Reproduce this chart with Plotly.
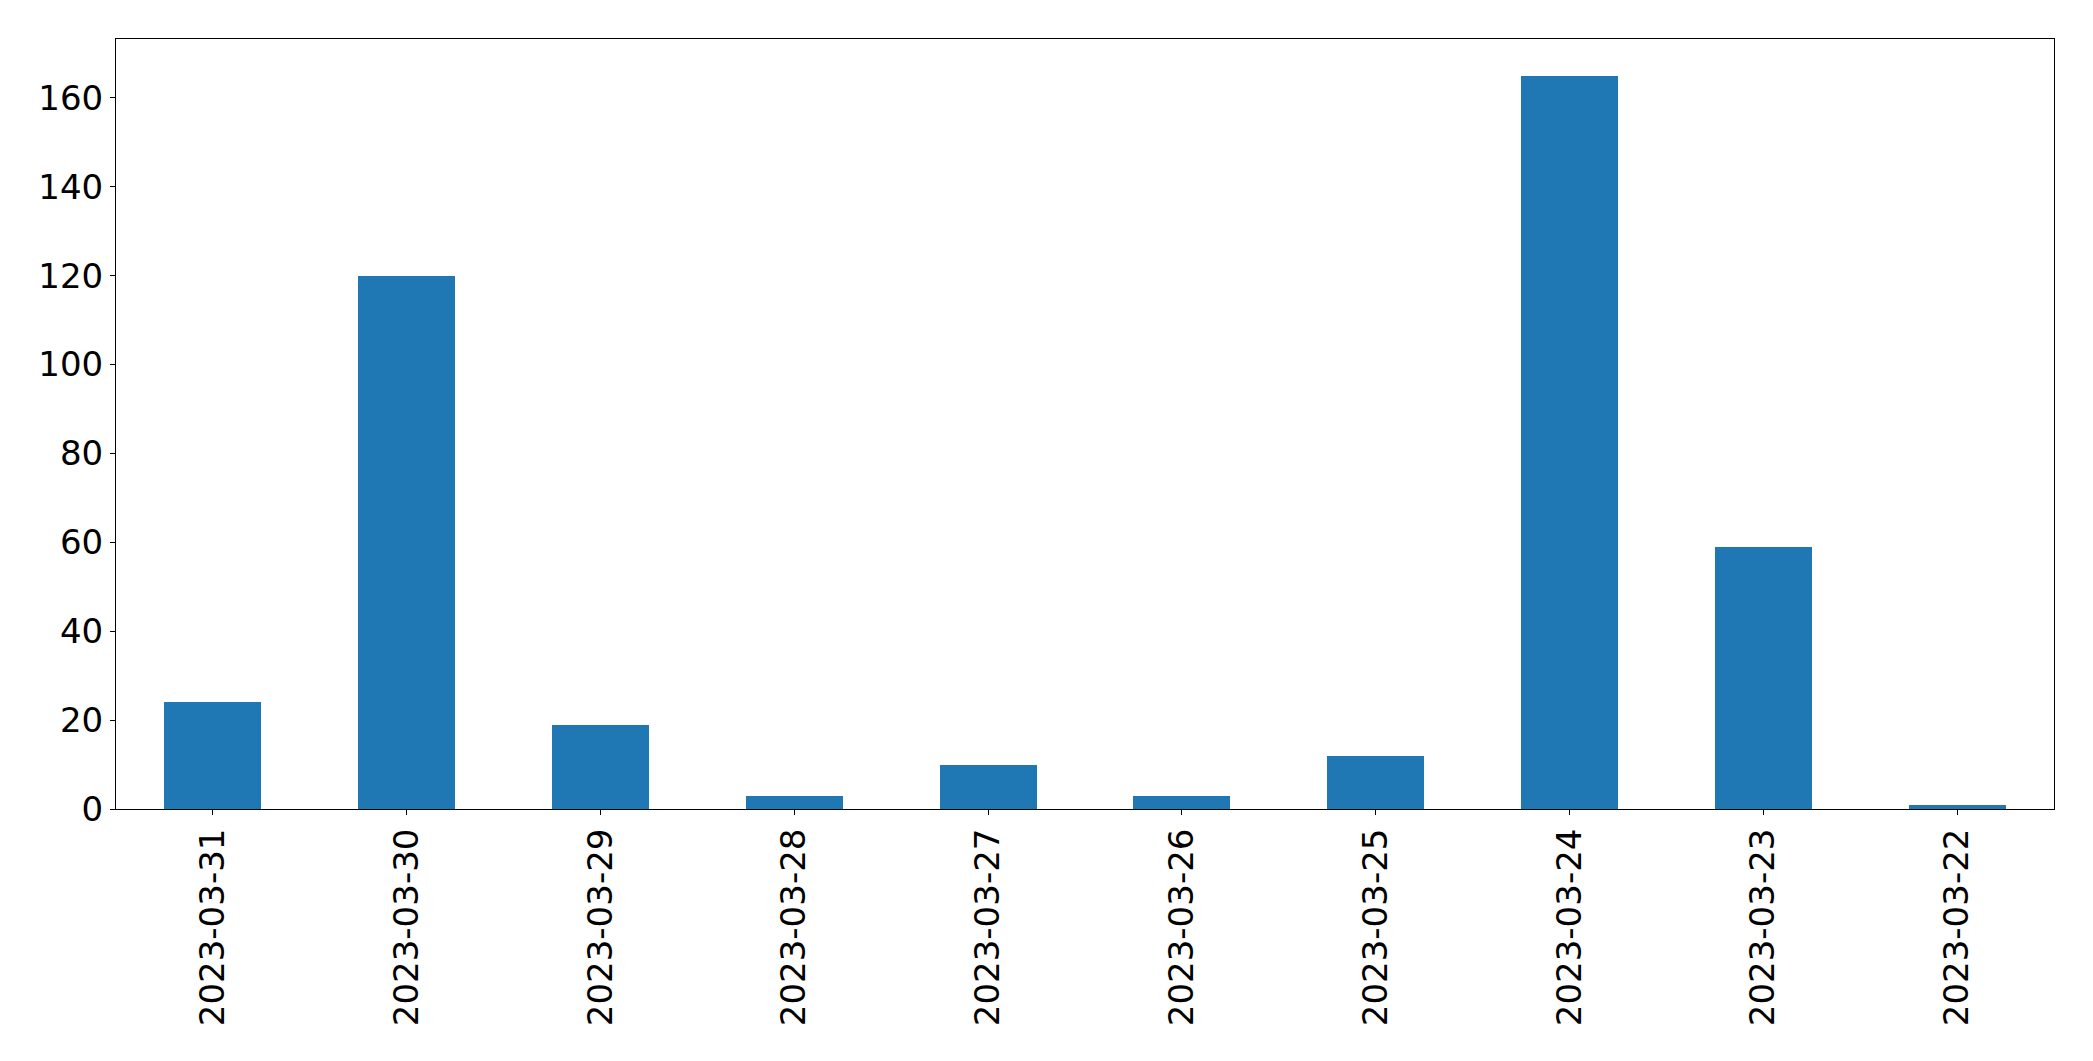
import plotly.graph_objects as go

dates = ["2023-03-31", "2023-03-30", "2023-03-29", "2023-03-28", "2023-03-27",
         "2023-03-26", "2023-03-25", "2023-03-24", "2023-03-23", "2023-03-22"]
counts = [24, 120, 19, 3, 10, 3, 12, 165, 59, 1]
y_ticks = [0, 20, 40, 60, 80, 100, 120, 140, 160]

fig = go.Figure()
fig.add_trace(go.Bar(x=dates, y=counts, width=0.5, marker=dict(color="#1f77b4", line=dict(width=0))))

fig.update_layout(
    width=2077, height=1045, autosize=False,
    margin=dict(l=108, r=31, t=31, b=244, pad=0),
    paper_bgcolor="white", plot_bgcolor="white",
    font=dict(family="DejaVu Sans", size=34, color="black"),
    showlegend=False,
    bargap=0,
)
fig.update_xaxes(
    type="category", range=[-0.5, 9.5],
    showline=True, linecolor="black", linewidth=1, mirror=True,
    ticks="outside", ticklen=5, tickwidth=1, tickcolor="black",
    tickangle=-90, showgrid=False, zeroline=False, ticklabelstandoff=0,
)
fig.update_yaxes(
    range=[0, 173.25], tickvals=y_ticks,
    showline=True, linecolor="black", linewidth=1, mirror=True,
    ticks="outside", ticklen=5, tickwidth=1, tickcolor="black",
    showgrid=False, zeroline=False, ticklabelstandoff=0,
)

fig.write_html("out.html")
